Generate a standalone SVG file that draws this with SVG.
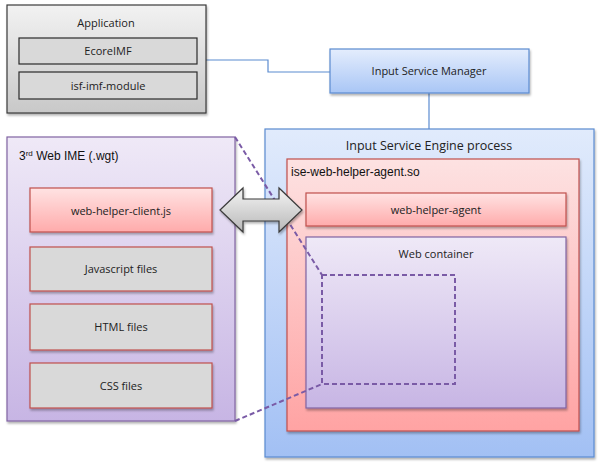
<svg xmlns="http://www.w3.org/2000/svg" width="602" height="467" viewBox="0 0 602 467">
<defs>
<linearGradient id="gGray" x1="0" y1="0" x2="0" y2="1"><stop offset="0" stop-color="#f2f2f2"/><stop offset="1" stop-color="#c8c8c8"/></linearGradient>
<linearGradient id="gBlueS" x1="0" y1="0" x2="0" y2="1"><stop offset="0" stop-color="#e4edfd"/><stop offset="1" stop-color="#a9c6f5"/></linearGradient>
<linearGradient id="gBlue" x1="0" y1="0" x2="0" y2="1"><stop offset="0" stop-color="#e1ebfc"/><stop offset="1" stop-color="#a2c0f4"/></linearGradient>
<linearGradient id="gPink" x1="0" y1="0" x2="0" y2="1"><stop offset="0" stop-color="#fde2e2"/><stop offset="1" stop-color="#ffa3a3"/></linearGradient>
<linearGradient id="gPinkS" x1="0" y1="0" x2="0" y2="1"><stop offset="0" stop-color="#ffe3e3"/><stop offset="1" stop-color="#ffabab"/></linearGradient>
<linearGradient id="gLav" x1="0" y1="0" x2="0" y2="1"><stop offset="0" stop-color="#efe9f7"/><stop offset="1" stop-color="#c7b5e4"/></linearGradient>
<linearGradient id="gArrow" x1="0" y1="0" x2="0" y2="1"><stop offset="0" stop-color="#f4f4f4"/><stop offset="1" stop-color="#b8b8b8"/></linearGradient>
<filter id="sh" x="-10%" y="-10%" width="120%" height="130%"><feDropShadow dx="1" dy="2" stdDeviation="1.2" flood-color="#000" flood-opacity="0.3"/></filter>
</defs>
<style>
text{font-family:"Open Sans","Noto Sans","Liberation Sans",sans-serif;font-size:11px;fill:#222;text-anchor:middle}
.a{font-family:"Liberation Sans",Arial,sans-serif;font-size:12px;text-anchor:start;fill:#111}
.t{font-size:12.5px}
.gray{fill:#d9d9d9;stroke:#c0504d;stroke-width:1.2}
.dash{fill:none;stroke:#7a5ba6;stroke-width:2;stroke-dasharray:5,3}
.conn{fill:none;stroke:#5b8bd0;stroke-width:1.2}
</style>
<g id="connectors">
<polyline class="conn" points="206,60 268,60 268,72 330,72"/>
<line class="conn" x1="429" y1="93" x2="429" y2="129"/>
</g>
<g id="application">
<rect x="7" y="5" width="199" height="108" fill="url(#gGray)" stroke="#3a3a3a" stroke-width="1.2" filter="url(#sh)"/>
<text x="106" y="27">Application</text>
</g>
<g id="ecoreimf">
<rect x="19" y="38" width="178" height="26" fill="#d9d9d9" stroke="#2a2a2a" stroke-width="1.2"/>
<text x="108" y="55">EcoreIMF</text>
</g>
<g id="isf-imf-module">
<rect x="19" y="72" width="178" height="27" fill="#d9d9d9" stroke="#2a2a2a" stroke-width="1.2"/>
<text x="108" y="90">isf-imf-module</text>
</g>
<g id="input-service-manager">
<rect x="330" y="49" width="199" height="44" fill="url(#gBlueS)" stroke="#5b8bd0" stroke-width="1.2" filter="url(#sh)"/>
<text x="429" y="75">Input Service Manager</text>
</g>
<g id="ise-process">
<rect x="265" y="129" width="329" height="328" fill="url(#gBlue)" stroke="#5b8bd0" stroke-width="1.2" filter="url(#sh)"/>
<text class="t" x="429" y="150">Input Service Engine process</text>
</g>
<g id="ise-web-helper-agent-so">
<rect x="287" y="159" width="292" height="272" fill="url(#gPink)" stroke="#c0504d" stroke-width="1.2" filter="url(#sh)"/>
<text class="a" x="291" y="176">ise-web-helper-agent.so</text>
</g>
<g id="web-helper-agent">
<rect x="306" y="193" width="260" height="33" fill="url(#gPinkS)" stroke="#c0504d" stroke-width="1.2" filter="url(#sh)"/>
<text x="436" y="214">web-helper-agent</text>
</g>
<g id="web-container">
<rect x="306" y="237" width="260" height="171" fill="url(#gLav)" stroke="#8064a2" stroke-width="1.2" filter="url(#sh)"/>
<text x="436" y="258">Web container</text>
</g>
<g id="web-ime">
<rect x="7" y="137" width="228" height="284" fill="url(#gLav)" stroke="#8064a2" stroke-width="1.2" filter="url(#sh)"/>
<text class="a" x="19" y="160">3<tspan font-size="8" dy="-4">rd</tspan><tspan dy="4"> Web IME (.wgt)</tspan></text>
</g>
<g id="web-helper-client">
<rect x="30" y="188" width="182" height="44" fill="url(#gPinkS)" stroke="#c0504d" stroke-width="1.2" filter="url(#sh)"/>
<text x="121" y="215">web-helper-client.js</text>
</g>
<g id="javascript-files">
<rect class="gray" x="30" y="247" width="182" height="44" filter="url(#sh)"/>
<text x="121" y="273">Javascript files</text>
</g>
<g id="html-files">
<rect class="gray" x="30" y="304" width="182" height="46" filter="url(#sh)"/>
<text x="121" y="331">HTML files</text>
</g>
<g id="css-files">
<rect class="gray" x="30" y="363" width="182" height="45" filter="url(#sh)"/>
<text x="121" y="390">CSS files</text>
</g>
<g id="projection">
<rect class="dash" x="322" y="275" width="133" height="109"/>
<line class="dash" x1="235" y1="137" x2="322" y2="275"/>
<line class="dash" x1="235" y1="421" x2="322" y2="384"/>
</g>
<g id="double-arrow">
<polygon points="220,210 243,188 243,199 279,199 279,188 302,210 279,232 279,221 243,221 243,232" fill="url(#gArrow)" stroke="#3a3a3a" stroke-width="1.2" filter="url(#sh)"/>
</g>
</svg>
